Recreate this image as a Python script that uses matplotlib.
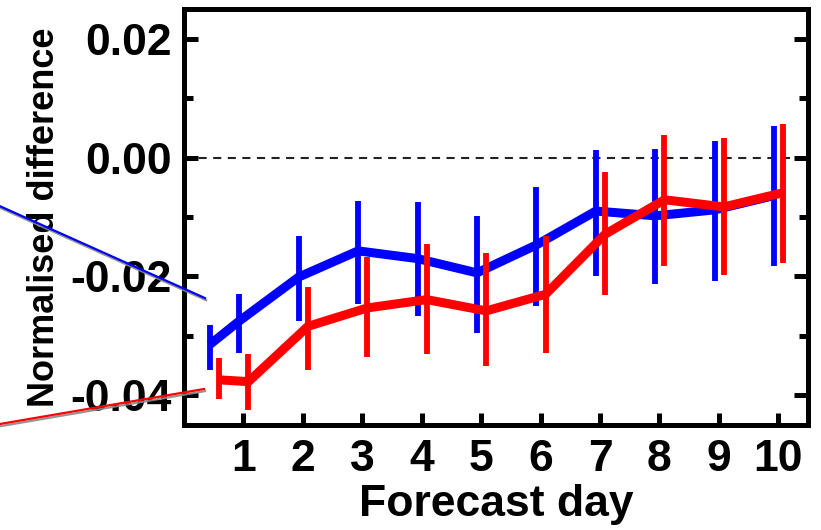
import matplotlib
matplotlib.use("Agg")
import matplotlib.pyplot as plt
from matplotlib.lines import Line2D
from matplotlib import patheffects as pe

plt.rcParams["font.family"] = ["Liberation Sans", "DejaVu Sans"]
plt.rcParams["font.weight"] = "bold"
plt.rcParams["axes.unicode_minus"] = False

# Forecast days (0.5 = first half day)
days = [0.5, 1, 2, 3, 4, 5, 6, 7, 8, 9, 10]

# Blue experiment: mean normalised difference and uncertainty range
blue_mean = [-0.0315, -0.0275, -0.0201, -0.0157, -0.0170, -0.0194,
             -0.0147, -0.0090, -0.0098, -0.0088, -0.0064]
blue_low = [-0.0357, -0.0329, -0.0275, -0.0247, -0.0267, -0.0295,
            -0.0250, -0.0199, -0.0212, -0.0208, -0.0183]
blue_high = [-0.0281, -0.0230, -0.0132, -0.0073, -0.0074, -0.0098,
             -0.0049, 0.0013, 0.0014, 0.0028, 0.0053]

# Red experiment
red_mean = [-0.0374, -0.0377, -0.0284, -0.0253, -0.0239, -0.0258,
            -0.0230, -0.0129, -0.0071, -0.0083, -0.0059]
red_low = [-0.0407, -0.0424, -0.0357, -0.0335, -0.0331, -0.0351,
           -0.0329, -0.0232, -0.0183, -0.0198, -0.0177]
red_high = [-0.0337, -0.0331, -0.0218, -0.0167, -0.0146, -0.0161,
            -0.0132, -0.0024, 0.0038, 0.0033, 0.0056]

x_ticks = [1, 2, 3, 4, 5, 6, 7, 8, 9, 10]
x_ticklabels = ["1", "2", "3", "4", "5", "6", "7", "8", "9", "10"]
y_ticks = [-0.04, -0.02, 0.00, 0.02]
y_ticklabels = ["-0.04", "-0.02", "0.00", "0.02"]
y_minor = [-0.03, -0.01, 0.01]

fig = plt.figure(figsize=(8.21, 5.30), dpi=100)
ax = fig.add_axes([184 / 821, 1 - 425 / 530, 624 / 821, 416 / 530])

ax.set_xlim(0, 10.5)
ax.set_ylim(-0.045, 0.025)

# zero reference line
ax.axhline(0, color="#222222", lw=1.5, ls=(0, (3.9, 3.1)), zorder=1)

# series drawn side by side around each day
series = [
    (blue_mean, blue_low, blue_high, "#0000ff", -0.07),
    (red_mean, red_low, red_high, "#ff0000", 0.085),
]
for k, (mean, low, high, color, shift) in enumerate(series):
    xs = [d + shift for d in days]
    ax.plot(xs, mean, color=color, lw=6.5, solid_joinstyle="miter",
            solid_capstyle="butt", zorder=2 + 2 * k)
    ax.vlines(xs, low, high, color=color, lw=4.2, zorder=3 + 2 * k,
              capstyle="butt")

# axes frame and ticks
for sp in ax.spines.values():
    sp.set_linewidth(3.6)
ax.set_xticks(x_ticks)
ax.set_xticklabels(x_ticklabels)
ax.set_yticks(y_ticks)
ax.set_yticklabels(y_ticklabels)
ax.set_yticks(y_minor, minor=True)
ax.tick_params(axis="x", which="major", direction="in", length=9, width=3.6,
               labelsize=32, pad=10, top=False)
ax.tick_params(axis="y", which="major", direction="in", length=10, width=3.6,
               labelsize=32, pad=9, left=True, right=True)
ax.tick_params(axis="y", which="minor", direction="in", length=6.5,
               width=3.6, left=True, right=True)
for lab in ax.get_xticklabels() + ax.get_yticklabels():
    lab.set_fontweight("bold")

ax.set_xlabel("Forecast day", fontsize=32, fontweight="bold", labelpad=3)
ax.set_ylabel("Normalised difference", fontsize=26, fontweight="bold")
ax.yaxis.set_label_coords(-0.196, 0.5)

# leader lines running in from the left margin
shadow = [pe.SimpleLineShadow(offset=(0.8, -1.5), shadow_color="#888888",
                              alpha=0.9), pe.Normal()]
leaders = [
    ((-0.295, 0.0337), (0.526, 0.305), "#0000ff"),
    ((-0.295, 0.032), (0.0024, 0.0865), "#ff0000"),
]
for xx, yy, color in leaders:
    ln = Line2D(xx, yy, transform=ax.transAxes, color=color, lw=1.6,
                clip_on=False, zorder=10, path_effects=shadow)
    ax.add_line(ln)

fig.savefig("out.png", dpi=100)
